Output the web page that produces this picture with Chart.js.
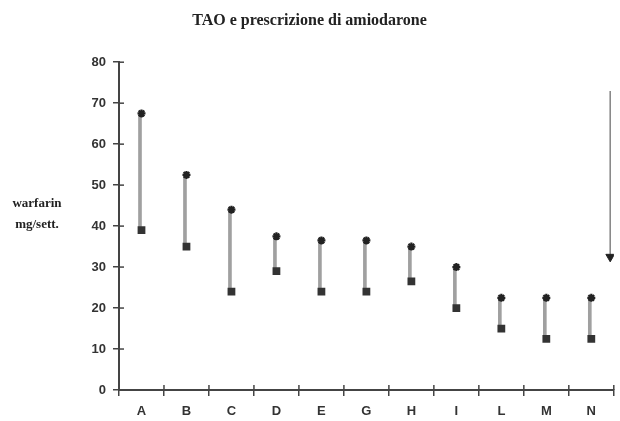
<!DOCTYPE html>
<html>
<head>
<meta charset="utf-8">
<script src="https://cdn.jsdelivr.net/npm/chart.js@4"></script>
<style>
  html, body { margin: 0; padding: 0; background: #fff; }
  #wrap { width: 620px; height: 421px; }
</style>
</head>
<body>
<div id="wrap"><canvas id="taoChart"></canvas></div>
<script>
// patients
const categories = ['A', 'B', 'C', 'D', 'E', 'G', 'H', 'I', 'L', 'M', 'N'];
// warfarin mg/week before amiodarone (stars)
const doseBefore = [67.5, 52.5, 44, 37.5, 36.5, 36.5, 35, 30, 22.5, 22.5, 22.5];
// warfarin mg/week with amiodarone (squares)
const doseAfter = [39, 35, 24, 29, 24, 24, 26.5, 20, 15, 12.5, 12.5];
// the big arrow on the right (x in category units)
const arrowX = [10.42, 10.42];
const arrowY = [73, 32.5];
const yTicks = [0, 10, 20, 30, 40, 50, 60, 70, 80];
const sideLabel = ['warfarin', 'mg/sett.'];

var axisColor = '#444';

var extras = {
    id: 'extras',
    afterDraw: function (chart) {
        var ctx = chart.ctx;
        var ys = chart.scales.y;
        var xs = chart.scales.x;
        ctx.save();
        ctx.strokeStyle = axisColor;
        ctx.lineWidth = 1.5;
        // inner half of the tick marks
        ys.ticks.forEach(function (t, i) {
            var py = ys.getPixelForTick(i);
            ctx.beginPath();
            ctx.moveTo(ys.right, py);
            ctx.lineTo(ys.right + 5, py);
            ctx.stroke();
        });
        for (var i = 0; i <= categories.length; i++) {
            var px = xs.getPixelForValue(i - 0.5);
            ctx.beginPath();
            ctx.moveTo(px, xs.top);
            ctx.lineTo(px, xs.top - 5);
            ctx.stroke();
        }
        // horizontal y axis label
        ctx.fillStyle = '#222';
        ctx.font = 'bold 13px "Liberation Serif", serif';
        ctx.textAlign = 'center';
        ctx.textBaseline = 'middle';
        ctx.fillText(sideLabel[0], 37, 204);
        ctx.fillText(sideLabel[1], 37, 225);
        ctx.restore();
    }
};

var ctx = document.getElementById('taoChart');
var taoChart = new Chart(ctx, {
    type: 'bar',
    data: {
        labels: categories,
        datasets: [
            {
                type: 'line',
                data: doseBefore,
                showLine: false,
                pointStyle: 'star',
                pointRadius: 4,
                borderWidth: 2.2,
                borderColor: '#222',
                backgroundColor: '#222',
                order: 0
            },
            {
                type: 'line',
                data: doseAfter,
                showLine: false,
                pointStyle: 'rect',
                pointRadius: 5.5,
                borderWidth: 0,
                backgroundColor: '#333',
                order: 1
            },
            {
                type: 'bar',
                data: doseAfter.map(function (v, i) { return [v, doseBefore[i]]; }),
                backgroundColor: '#a0a0a0',
                borderWidth: 0,
                barThickness: 3,
                order: 2
            },
            {
                type: 'line',
                xAxisID: 'xa',
                data: arrowX.map(function (v, i) { return {x: v, y: arrowY[i]}; }),
                borderColor: '#8a8a8a',
                borderWidth: 1.6,
                pointStyle: 'triangle',
                pointRadius: [0, 5],
                pointRotation: [0, 180],
                pointBackgroundColor: '#222',
                pointBorderColor: '#222',
                pointBorderWidth: 1,
                order: 3
            }
        ]
    },
    options: {
        responsive: true,
        maintainAspectRatio: false,
        animation: false,
        layout: {
            padding: {left: 0, right: 1, top: 0, bottom: 0}
        },
        plugins: {
            legend: {display: false},
            tooltip: {enabled: false},
            title: {
                display: true,
                text: 'TAO e prescrizione di amiodarone',
                color: '#222',
                font: {family: '"Liberation Serif", serif', size: 16, weight: 'bold'},
                padding: {top: 11, bottom: 32}
            }
        },
        scales: {
            x: {
                type: 'category',
                offset: true,
                grid: {
                    offset: true,
                    drawOnChartArea: false,
                    tickLength: 6,
                    color: axisColor,
                    lineWidth: 1.5
                },
                border: {color: axisColor, width: 2},
                ticks: {
                    color: '#333',
                    padding: 8,
                    font: {family: '"Liberation Sans", Arial', size: 13, weight: 'bold'}
                },
                afterFit: function (s) { s.height = 31; }
            },
            xa: {
                type: 'linear',
                display: false,
                offset: false,
                grid: {offset: false},
                min: -0.5,
                max: 10.5
            },
            y: {
                min: 0,
                max: 80,
                afterBuildTicks: function (s) {
                    s.ticks = yTicks.map(function (v) { return {value: v}; });
                },
                grid: {
                    drawOnChartArea: false,
                    tickLength: 6,
                    color: axisColor,
                    lineWidth: 1.5
                },
                border: {color: axisColor, width: 2},
                ticks: {
                    color: '#333',
                    padding: 7,
                    font: {family: '"Liberation Sans", Arial', size: 13, weight: 'bold'}
                },
                afterFit: function (s) { s.width = 119; }
            }
        }
    },
    plugins: [extras]
});
</script>
</body>
</html>
